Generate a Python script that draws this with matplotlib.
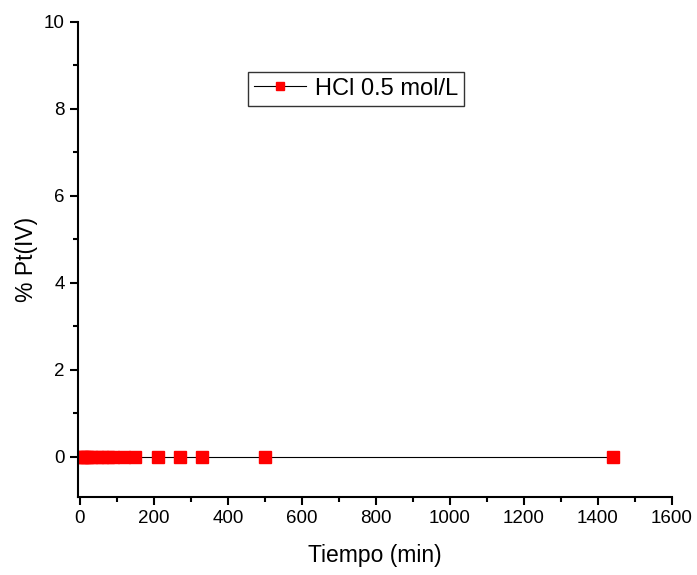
import matplotlib
matplotlib.use("Agg")
import matplotlib.pyplot as plt
from matplotlib.ticker import MultipleLocator

plt.rcParams['font.family'] = ['Liberation Sans', 'DejaVu Sans']

# data
tiempo = [5, 10, 15, 20, 30, 45, 60, 75, 90, 120, 150, 210, 270, 330, 500, 1440]
pt_iv = [0, 0, 0, 0, 0, 0, 0, 0, 0, 0, 0, 0, 0, 0, 0, 0]
serie = "HCl 0.5 mol/L"

fig = plt.figure(figsize=(6.97, 5.75), dpi=100)
ax = fig.add_axes([0.112, 0.136, 0.852, 0.826])

ax.plot(tiempo, pt_iv, color="black", linewidth=0.8, marker="s", markersize=8,
        markerfacecolor="red", markeredgecolor="red", label=serie)

ax.set_xlim(-5, 1600)
ax.set_ylim(-0.92, 10)
ax.xaxis.set_major_locator(MultipleLocator(200))
ax.xaxis.set_minor_locator(MultipleLocator(100))
ax.yaxis.set_major_locator(MultipleLocator(2))
ax.yaxis.set_minor_locator(MultipleLocator(1))

for side in ["top", "right"]:
    ax.spines[side].set_visible(False)
for side in ["left", "bottom"]:
    ax.spines[side].set_linewidth(1.5)

ax.tick_params(which="major", direction="out", length=6, width=1.5, labelsize=13.5)
ax.tick_params(which="minor", direction="out", length=3.5, width=1.5)

ax.set_xlabel("Tiempo (min)", fontsize=16.5, labelpad=12)
ax.set_ylabel("% Pt(IV)", fontsize=16.5, labelpad=4)

leg = ax.legend(loc="upper left", bbox_to_anchor=(0.286, 0.895), fontsize=17,
                frameon=True, fancybox=False, edgecolor="black", markerscale=0.65,
                handlelength=2.2, borderpad=0.25, handletextpad=0.4,
                borderaxespad=0)
leg.get_frame().set_linewidth(1.0)

fig.savefig("out.png", dpi=100)
